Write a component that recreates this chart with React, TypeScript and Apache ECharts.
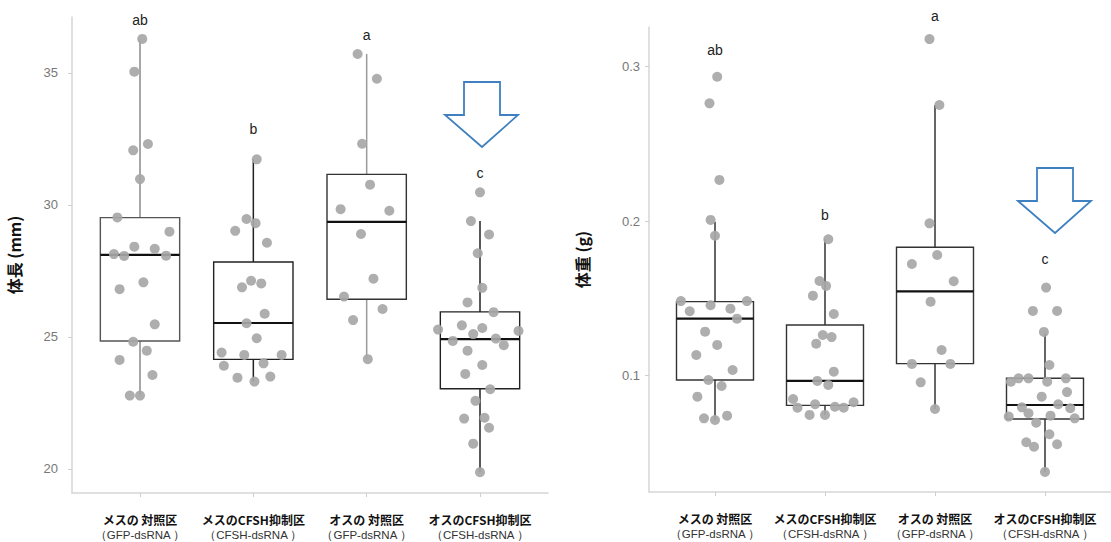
import React, { useEffect, useRef } from "react";
import * as echarts from "echarts";

// ---------- data ----------
const categories = ["メスの 対照区", "メスのCFSH抑制区", "オスの 対照区", "オスのCFSH抑制区"];
const subLabels = ["（GFP-dsRNA ）", "（CFSH-dsRNA ）", "（GFP-dsRNA ）", "（CFSH-dsRNA ）"];
const categoryPositions = [1, 2, 3, 4];

const lengthTicks = [20, 25, 30, 35];
const weightTicks = [0.1, 0.2, 0.3];

// box stats: [lower whisker, Q1, median, Q3, upper whisker]
const lengthBoxes = [
  [22.78, 24.85, 28.11, 29.52, 36.29],
  [23.31, 24.15, 25.53, 27.84, 31.73],
  [24.16, 26.43, 29.36, 31.16, 35.72],
  [19.88, 23.04, 24.92, 25.95, 29.39],
];
const weightBoxes = [
  [0.0713, 0.0972, 0.1369, 0.1479, 0.1997],
  [0.0746, 0.0808, 0.0966, 0.1328, 0.1883],
  [0.0784, 0.1078, 0.1546, 0.1831, 0.2752],
  [0.0377, 0.072, 0.081, 0.0983, 0.1274],
];

// jittered points: [horizontal jitter, value]
const lengthG1 = [[0.02, 36.29], [-0.05, 35.05], [-0.06, 32.07], [0.07, 32.31], [0.0, 30.98], [-0.2, 29.53], [0.26, 28.99], [-0.05, 28.42], [0.13, 28.34], [-0.23, 28.14], [-0.14, 28.07], [0.23, 28.08], [0.03, 27.07], [-0.18, 26.81], [0.13, 25.48], [-0.06, 24.82], [0.06, 24.48], [-0.18, 24.13], [0.11, 23.56], [-0.09, 22.78], [0.0, 22.78]];
const lengthG2 = [[0.03, 31.73], [-0.06, 29.47], [0.02, 29.31], [-0.16, 29.02], [0.12, 28.57], [-0.02, 27.13], [0.07, 27.03], [-0.1, 26.88], [0.1, 25.88], [-0.06, 25.52], [0.03, 24.95], [-0.28, 24.41], [-0.08, 24.32], [0.25, 24.32], [-0.26, 23.91], [0.09, 24.0], [-0.14, 23.46], [0.01, 23.31], [0.15, 23.5]];
const lengthG3 = [[-0.08, 35.72], [0.09, 34.78], [-0.04, 32.32], [0.03, 30.77], [-0.23, 29.84], [0.2, 29.78], [-0.05, 28.9], [0.06, 27.21], [-0.2, 26.53], [0.14, 26.06], [-0.12, 25.64], [0.01, 24.16]];
const lengthG4 = [[0.0, 30.48], [-0.08, 29.39], [0.08, 28.88], [-0.02, 28.17], [0.02, 26.86], [-0.11, 26.31], [0.12, 25.94], [-0.16, 25.44], [0.02, 25.34], [-0.37, 25.28], [-0.06, 25.11], [0.34, 25.23], [-0.24, 24.85], [0.14, 24.94], [0.21, 24.69], [-0.11, 24.48], [0.02, 23.94], [-0.13, 23.6], [0.09, 23.02], [-0.04, 22.58], [-0.14, 21.91], [0.04, 21.94], [0.08, 21.56], [-0.06, 20.96], [0.0, 19.88]];

const weightG1 = [[0.02, 0.2935], [-0.05, 0.2763], [0.04, 0.2267], [-0.04, 0.2008], [0.0, 0.1906], [-0.31, 0.1483], [0.29, 0.1483], [-0.04, 0.1456], [0.14, 0.1434], [-0.23, 0.1417], [0.2, 0.1369], [-0.09, 0.1285], [0.02, 0.1199], [-0.17, 0.1134], [0.16, 0.1037], [-0.06, 0.0972], [0.06, 0.0933], [-0.16, 0.0864], [-0.1, 0.0724], [0.0, 0.0713], [0.11, 0.0741]];
const weightG2 = [[0.03, 0.1883], [-0.05, 0.1613], [0.01, 0.1581], [-0.11, 0.1518], [0.08, 0.1399], [-0.02, 0.1263], [0.06, 0.125], [-0.08, 0.1207], [0.08, 0.1026], [-0.07, 0.0966], [0.03, 0.094], [-0.29, 0.0849], [-0.25, 0.0793], [-0.09, 0.0815], [0.09, 0.0799], [0.17, 0.0793], [0.26, 0.0828], [-0.14, 0.0746], [0.0, 0.0746]];
const weightG3 = [[-0.05, 0.3179], [0.04, 0.2752], [-0.05, 0.1986], [0.02, 0.1781], [-0.21, 0.1723], [0.17, 0.1611], [-0.04, 0.1479], [0.06, 0.1166], [-0.21, 0.1076], [0.14, 0.1076], [-0.13, 0.0957], [0.0, 0.0784]];
const weightG4 = [[0.01, 0.157], [-0.11, 0.1419], [0.11, 0.1419], [-0.01, 0.1283], [0.04, 0.1069], [-0.31, 0.0961], [-0.24, 0.0983], [-0.15, 0.0983], [0.02, 0.0961], [0.19, 0.0983], [0.2, 0.0894], [-0.03, 0.0864], [-0.21, 0.0795], [0.12, 0.0815], [0.23, 0.0789], [-0.33, 0.0735], [-0.15, 0.0757], [0.05, 0.0741], [0.27, 0.0724], [-0.08, 0.0696], [0.04, 0.0621], [-0.17, 0.0569], [-0.1, 0.054], [0.11, 0.0556], [0.0, 0.0377]];

const lengthLetters = ["ab", "b", "a", "c"];
const lengthLetterY = [37.01, 32.87, 36.44, 31.2];
const weightLetters = ["ab", "b", "a", "c"];
const weightLetterY = [0.3108, 0.204, 0.3328, 0.1755];

// ---------- styling ----------
const CJK = "'Noto Sans CJK JP', sans-serif";
const SANS = "'Liberation Sans', Arial, sans-serif";
const leftWhisker = ["#8a8a8a", "#222222", "#9a9a9a", "#222222"];
const leftBoxLine = ["#555555", "#222222", "#333333", "#222222"];
const rightWhisker = ["#333333", "#333333", "#333333", "#333333"];
const rightBoxLine = ["#333333", "#333333", "#333333", "#333333"];

function boxSeries(boxes: number[][], idx: number, whisk: string[], boxLine: string[]) {
  return {
    type: "custom",
    xAxisIndex: idx,
    yAxisIndex: idx,
    z: 2,
    encode: { x: 0, y: [1, 2, 3, 4, 5] },
    data: boxes.map((b, i) => [categoryPositions[i], ...b]),
    renderItem: (params: any, api: any) => {
      const x = api.value(0);
      const lo = api.value(1), q1 = api.value(2), med = api.value(3), q3 = api.value(4), hi = api.value(5);
      const hw = 0.35;
      const tl = api.coord([x - hw, q3]);
      const br = api.coord([x + hw, q1]);
      const mL = api.coord([x - hw, med]);
      const mR = api.coord([x + hw, med]);
      const pHi = api.coord([x, hi]);
      const pLo = api.coord([x, lo]);
      const pQ3 = api.coord([x, q3]);
      const pQ1 = api.coord([x, q1]);
      const i = params.dataIndex;
      return {
        type: "group",
        children: [
          { type: "line", shape: { x1: pHi[0], y1: pHi[1], x2: pQ3[0], y2: pQ3[1] }, style: { stroke: whisk[i], lineWidth: 1.5 } },
          { type: "line", shape: { x1: pLo[0], y1: pLo[1], x2: pQ1[0], y2: pQ1[1] }, style: { stroke: whisk[i], lineWidth: 1.5 } },
          { type: "rect", shape: { x: tl[0], y: tl[1], width: br[0] - tl[0], height: br[1] - tl[1] }, style: { fill: "transparent", stroke: boxLine[i], lineWidth: 1.4 } },
          { type: "line", shape: { x1: mL[0], y1: mL[1], x2: mR[0], y2: mR[1] }, style: { stroke: "#111111", lineWidth: 2.2 } },
        ],
      };
    },
  };
}

function pointSeries(groups: number[][][], idx: number) {
  const data: number[][] = [];
  groups.forEach((pts, g) => pts.forEach(([j, v]) => data.push([categoryPositions[g] + j, v])));
  return {
    type: "scatter",
    xAxisIndex: idx,
    yAxisIndex: idx,
    z: 3,
    symbolSize: 10,
    itemStyle: { color: "#a7a7a7", opacity: 0.92 },
    data,
  };
}

function letterSeries(letters: string[], ys: number[], idx: number) {
  return {
    type: "custom",
    xAxisIndex: idx,
    yAxisIndex: idx,
    z: 4,
    clip: false,
    encode: { x: 0, y: 1 },
    data: ys.map((y, i) => [categoryPositions[i], y]),
    renderItem: (params: any, api: any) => {
      const p = api.coord([api.value(0), api.value(1)]);
      return {
        type: "text",
        x: p[0],
        y: p[1],
        style: { text: letters[params.dataIndex], fill: "#222", font: `14px ${SANS}`, align: "center", verticalAlign: "middle" },
      };
    },
  };
}

function xAxisDef(idx: number) {
  return {
    type: "value",
    gridIndex: idx,
    min: 0.4,
    max: 4.6,
    splitLine: { show: false },
    axisLine: { show: true, lineStyle: { color: "#d6d6d6", width: 1.5 } },
    axisTick: { show: true, length: 4, customValues: categoryPositions, lineStyle: { color: "#cfcfcf" } },
    axisLabel: {
      show: true,
      customValues: categoryPositions,
      margin: 19,
      formatter: (v: number) => {
        const i = Math.round(v) - 1;
        return `{a|${categories[i]}}\n{b|${subLabels[i]}}`;
      },
      rich: {
        a: { fontFamily: CJK, fontWeight: "bold", fontSize: 12, color: "#111", lineHeight: 15 },
        b: { fontFamily: SANS, fontSize: 11.5, color: "#333", lineHeight: 15 },
      },
    },
  };
}

function yAxisDef(idx: number, min: number, max: number, ticks: number[], name: string, gap: number, margin: number, fmt: (v: number) => string) {
  return {
    type: "value",
    gridIndex: idx,
    min,
    max,
    name,
    nameLocation: "middle",
    nameGap: gap,
    nameRotate: 90,
    nameTextStyle: { fontFamily: CJK, fontWeight: "bold", fontSize: 16, color: "#111" },
    splitLine: { show: false },
    axisLine: { show: true, lineStyle: { color: "#d6d6d6", width: 1.5 } },
    axisTick: { show: true, length: 4, customValues: ticks, lineStyle: { color: "#cfcfcf" } },
    axisLabel: { show: true, customValues: ticks, margin, color: "#777", fontSize: 13, fontFamily: SANS, formatter: fmt },
  };
}

function arrow(x0: number, y0: number) {
  // outline of a block arrow pointing down, placed at (x0, y0)
  return {
    type: "polygon",
    x: x0,
    y: y0,
    shape: { points: [[19, 0], [55, 0], [55, 33], [73, 33], [37, 65], [0, 33], [19, 33]] },
    style: { fill: "#ffffff", stroke: "#3f80c0", lineWidth: 1.8 },
    z: 10,
  };
}

export default function App() {
  const ref = useRef<HTMLDivElement>(null);
  useEffect(() => {
    if (!ref.current) return;
    const chart = echarts.init(ref.current, null, { renderer: "svg" });
    chart.setOption({
      animation: false,
      backgroundColor: "#ffffff",
      grid: [
        { left: 72, top: 17, width: 476, height: 476 },
        { left: 649, top: 27, width: 469, height: 465 },
      ],
      xAxis: [xAxisDef(0), xAxisDef(1)],
      yAxis: [
        yAxisDef(0, 19.09, 37.12, lengthTicks, "体長 (mm)", 50, 14, (v) => String(v)),
        yAxisDef(1, 0.0247, 0.3257, weightTicks, "体重 (g)", 59, 9, (v) => v.toFixed(1)),
      ],
      series: [
        boxSeries(lengthBoxes, 0, leftWhisker, leftBoxLine),
        pointSeries([lengthG1, lengthG2, lengthG3, lengthG4], 0),
        letterSeries(lengthLetters, lengthLetterY, 0),
        boxSeries(weightBoxes, 1, rightWhisker, rightBoxLine),
        pointSeries([weightG1, weightG2, weightG3, weightG4], 1),
        letterSeries(weightLetters, weightLetterY, 1),
      ],
      graphic: [arrow(445, 82), arrow(1018, 168)],
    });
    return () => chart.dispose();
  }, []);
  return <div ref={ref} style={{ position: "fixed", left: 0, top: 0, width: 1111, height: 542, background: "#fff" }} />;
}
